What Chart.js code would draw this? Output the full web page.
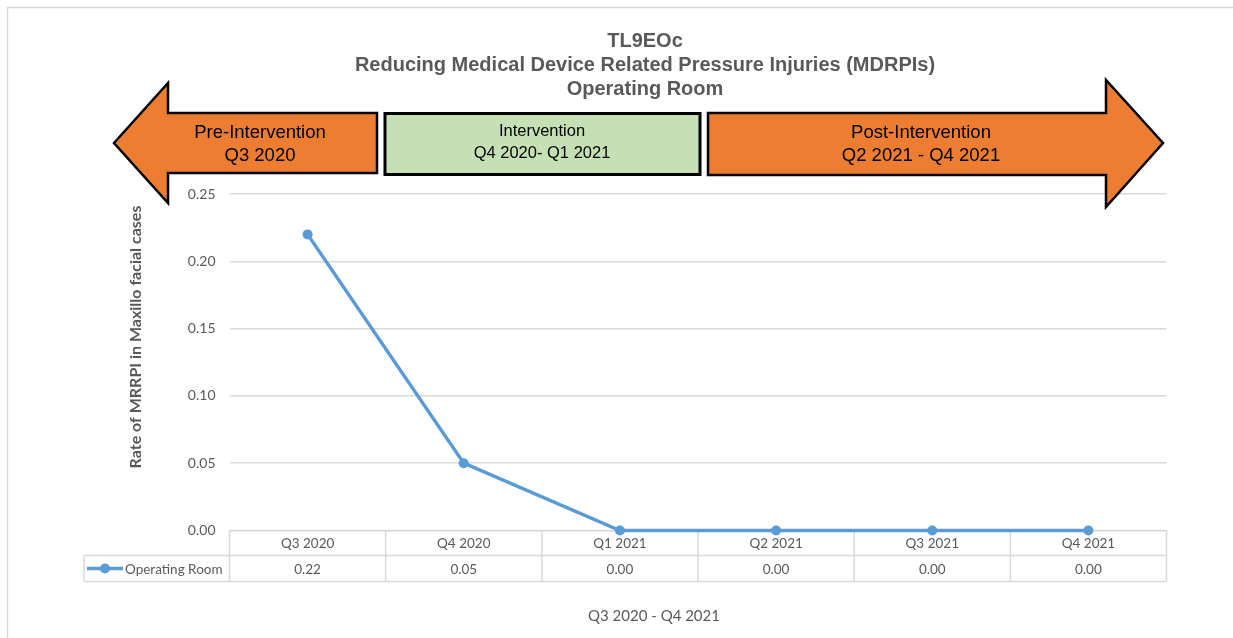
<!DOCTYPE html>
<html>
<head>
<meta charset="utf-8">
<script src="https://cdn.jsdelivr.net/npm/chart.js@4.4.1/dist/chart.umd.min.js"></script>
<style>
  html, body { margin: 0; padding: 0; background: #ffffff; }
  #wrap { width: 1233px; height: 638px; position: relative; }
</style>
</head>
<body>
<div id="wrap"><canvas id="c" width="1233" height="638"></canvas></div>
<script>
// ---- data ----
const categories = ['Q3 2020', 'Q4 2020', 'Q1 2021', 'Q2 2021', 'Q3 2021', 'Q4 2021'];
const seriesName = 'Operating Room';
const operatingRoom = [0.22, 0.05, 0.00, 0.00, 0.00, 0.00];
const yTicks = [0, 0.05, 0.10, 0.15, 0.20, 0.25];
const titleLines = ['TL9EOc', 'Reducing Medical Device Related Pressure Injuries (MDRPIs)', 'Operating Room'];
const phaseLabels = [
  ['Pre-Intervention', 'Q3 2020'],
  ['Intervention', 'Q4 2020- Q1 2021'],
  ['Post-Intervention', 'Q2 2021 - Q4 2021']
];
const yTitle = 'Rate of MRRPI in Maxillo facial cases';
const xTitle = 'Q3 2020 - Q4 2021';

const LINE = '#5B9BD5';
const GRID = '#d9d9d9';
const TXT = '#595959';
const ORANGE = '#ED7D31';
const GREEN = '#C5E0B4';
const TABLE_FONT = '13.5px Lato, "Open Sans", sans-serif';

function poly(ctx, pts, fill, lw) {
  ctx.beginPath();
  ctx.moveTo(pts[0][0], pts[0][1]);
  for (let i = 1; i < pts.length; i++) ctx.lineTo(pts[i][0], pts[i][1]);
  ctx.closePath();
  ctx.fillStyle = fill;
  ctx.fill();
  ctx.lineWidth = lw;
  ctx.strokeStyle = '#000';
  ctx.lineJoin = 'miter';
  ctx.stroke();
}

const decor = {
  id: 'decor',
  beforeDraw(chart) {
    const ctx = chart.ctx;
    ctx.save();
    ctx.fillStyle = '#fff';
    ctx.fillRect(0, 0, chart.width, chart.height);
    ctx.strokeStyle = GRID;
    ctx.lineWidth = 1.5;
    ctx.strokeRect(7.5, 7.5, 1300, 700);
    ctx.restore();
  },
  beforeDatasetsDraw(chart) {
    const ctx = chart.ctx;
    const x = chart.scales.x;
    const ca = chart.chartArea;
    ctx.save();
    // ---- data table ----
    const step = x.getPixelForValue(1) - x.getPixelForValue(0);
    const top = ca.bottom, mid = 555.5, bot = 581.5, tableLeft = 84;
    ctx.strokeStyle = GRID;
    ctx.lineWidth = 1.5;
    ctx.beginPath();
    ctx.moveTo(ca.left, top); ctx.lineTo(ca.right, top);
    ctx.moveTo(tableLeft, mid); ctx.lineTo(ca.right, mid);
    ctx.moveTo(tableLeft, bot); ctx.lineTo(ca.right, bot);
    ctx.moveTo(tableLeft, mid); ctx.lineTo(tableLeft, bot);
    for (let i = 0; i <= categories.length; i++) {
      const px = x.getPixelForValue(0) - step / 2 + i * step;
      ctx.moveTo(px, top); ctx.lineTo(px, bot);
    }
    ctx.stroke();
    ctx.fillStyle = TXT;
    ctx.font = TABLE_FONT;
    ctx.textAlign = 'center';
    ctx.textBaseline = 'middle';
    categories.forEach((c, i) => {
      const px = x.getPixelForValue(i);
      ctx.fillText(c, px, (top + mid) / 2 + 1);
      ctx.fillText(operatingRoom[i].toFixed(2), px, (mid + bot) / 2 + 1);
    });
    // legend key
    const ly = (mid + bot) / 2;
    ctx.strokeStyle = LINE;
    ctx.lineWidth = 3.5;
    ctx.beginPath(); ctx.moveTo(87, ly); ctx.lineTo(123, ly); ctx.stroke();
    ctx.fillStyle = LINE;
    ctx.beginPath(); ctx.arc(105, ly, 5, 0, Math.PI * 2); ctx.fill();
    ctx.fillStyle = TXT;
    ctx.textAlign = 'left';
    ctx.fillText(seriesName, 125, ly + 1);
    ctx.restore();
  },
  afterDraw(chart) {
    const ctx = chart.ctx;
    ctx.save();
    // ---- arrows ----
    poly(ctx, [[114,143],[168,83],[168,113],[377,113],[377,173],[168,173],[168,203]], ORANGE, 2.5);
    poly(ctx, [[385,113.5],[700,113.5],[700,174.5],[385,174.5]], GREEN, 3);
    poly(ctx, [[708,113],[1106,113],[1106,80],[1163,143],[1106,207],[1106,175],[708,175]], ORANGE, 2.5);
    ctx.fillStyle = '#000';
    ctx.textAlign = 'center';
    ctx.textBaseline = 'middle';
    ctx.font = '18.5px "Liberation Sans", Arial, sans-serif';
    ctx.fillText(phaseLabels[0][0], 260, 133);
    ctx.fillText(phaseLabels[0][1], 260, 156);
    ctx.fillText(phaseLabels[2][0], 921, 133);
    ctx.fillText(phaseLabels[2][1], 921, 156);
    ctx.font = '16.5px "Liberation Sans", Arial, sans-serif';
    ctx.fillText(phaseLabels[1][0], 542, 131);
    ctx.fillText(phaseLabels[1][1], 542, 153);

    // ---- titles ----
    ctx.fillStyle = TXT;
    ctx.font = 'bold 20px "Liberation Sans", Arial, sans-serif';
    ctx.fillText(titleLines[0], 645, 41);
    ctx.fillText(titleLines[1], 645, 65);
    ctx.fillText(titleLines[2], 645, 89);

    ctx.font = '15px Lato, "Open Sans", sans-serif';
    ctx.fillText(xTitle, 654, 616);

    ctx.save();
    ctx.translate(136, 337);
    ctx.rotate(-Math.PI / 2);
    ctx.font = 'bold 16px Lato, "Open Sans", sans-serif';
    ctx.fillText(yTitle, 0, 0);
    ctx.restore();
    ctx.restore();
  }
};

new Chart(document.getElementById('c'), {
  type: 'line',
  data: {
    labels: categories,
    datasets: [{
      label: seriesName,
      data: operatingRoom,
      borderColor: LINE,
      backgroundColor: LINE,
      borderWidth: 3.5,
      pointRadius: 5,
      pointHoverRadius: 5,
      pointBackgroundColor: LINE,
      pointBorderWidth: 0,
      tension: 0,
      clip: 10
    }]
  },
  options: {
    responsive: false,
    animation: false,
    events: [],
    layout: { padding: { left: 100, right: 66.5, top: 194, bottom: 107.5 } },
    plugins: { legend: { display: false }, title: { display: false }, tooltip: { enabled: false } },
    scales: {
      x: {
        type: 'category',
        display: false,
        offset: true
      },
      y: {
        min: 0,
        max: 0.25,
        afterBuildTicks(scale) { scale.ticks = yTicks.map(v => ({ value: v })); },
        afterFit(scale) { scale.width = 129.5; },
        border: { display: false },
        grid: { color: GRID, lineWidth: 1.5, drawTicks: false },
        ticks: {
          padding: 14,
          color: TXT,
          font: { family: 'Lato, "Open Sans", sans-serif', size: 14 },
          callback: v => Number(v).toFixed(2)
        }
      }
    }
  },
  plugins: [decor]
});
</script>
</body>
</html>
